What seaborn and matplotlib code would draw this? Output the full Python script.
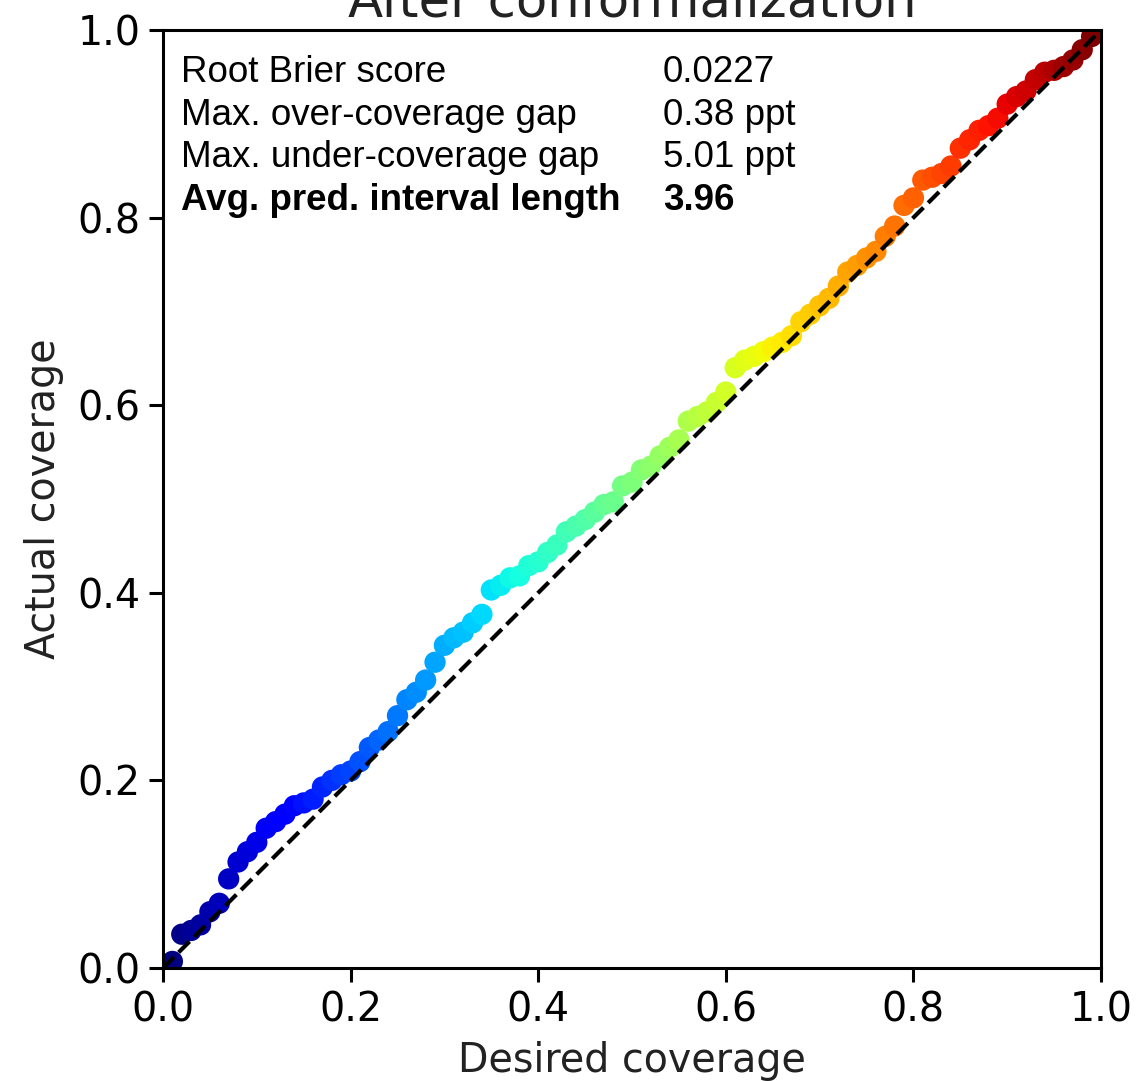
import numpy as np
import pandas as pd
import matplotlib
matplotlib.use("Agg")
import matplotlib.pyplot as plt
import seaborn as sns

desired = [round(0.01 * i, 2) for i in range(1, 100)]
actual = [
    0.007, 0.036, 0.040, 0.046, 0.060, 0.069, 0.095, 0.113, 0.124, 0.134,
    0.149, 0.156, 0.164, 0.173, 0.176, 0.180, 0.193, 0.200, 0.206, 0.210,
    0.220, 0.235, 0.243, 0.252, 0.269, 0.286, 0.294, 0.307, 0.326, 0.344,
    0.352, 0.358, 0.368, 0.377, 0.403, 0.408, 0.416, 0.418, 0.429, 0.433,
    0.443, 0.451, 0.465, 0.471, 0.478, 0.486, 0.494, 0.497, 0.514, 0.518,
    0.531, 0.535, 0.546, 0.555, 0.563, 0.583, 0.588, 0.593, 0.603, 0.614,
    0.640, 0.648, 0.652, 0.657, 0.662, 0.667, 0.674, 0.689, 0.697, 0.706,
    0.714, 0.727, 0.742, 0.749, 0.757, 0.764, 0.780, 0.791, 0.813, 0.821,
    0.840, 0.843, 0.847, 0.855, 0.874, 0.883, 0.893, 0.898, 0.906, 0.921,
    0.929, 0.935, 0.947, 0.955, 0.957, 0.961, 0.968, 0.979, 0.993,
]
diag = [0.0, 1.0]
tick_values = [0.0, 0.2, 0.4, 0.6, 0.8, 1.0]
tick_labels = ["0.0", "0.2", "0.4", "0.6", "0.8", "1.0"]
stat_names = ["Root Brier score", "Max. over-coverage gap",
              "Max. under-coverage gap", "Avg. pred. interval length"]
stat_values = ["0.0227", "0.38 ppt", "5.01 ppt", "3.96"]
stat_bold = [False, False, False, True]

sns.set_theme(style="ticks")
plt.rcParams["font.family"] = ["DejaVu Sans"]

df = pd.DataFrame({"desired": desired, "actual": actual})

W, H = 1137, 1081
fig = plt.figure(figsize=(W / 100, H / 100), dpi=100)
ax = fig.add_axes([163 / W, (H - 968) / H, 938 / W, 938 / H])

sns.scatterplot(data=df, x="desired", y="actual", hue="desired",
                palette=matplotlib.colormaps["jet"],
                s=235, linewidth=0, legend=False, ax=ax, zorder=2)
sns.lineplot(x=diag, y=diag, color="black", linestyle="--", linewidth=3.0,
             ax=ax, zorder=3)

ax.set_xlim(0, 1)
ax.set_ylim(0, 1)
ax.set_xticks(tick_values)
ax.set_xticklabels(tick_labels)
ax.set_yticks(tick_values)
ax.set_yticklabels(tick_labels)
ax.tick_params(axis="both", labelsize=28.5, length=10, width=2.2, color="black",
               labelcolor="black", pad=6)
for sp in ax.spines.values():
    sp.set_linewidth(2.2)
    sp.set_color("black")
ax.set_xlabel("Desired coverage", fontsize=28.5, labelpad=8, color="#222222")
ax.set_ylabel("Actual coverage", fontsize=28.5, labelpad=10, color="#222222")
ax.set_title("After conformalization", fontsize=37, pad=10, color="#222222")

ys = [0.955, 0.909, 0.864, 0.818]
for name, val, bold, yy in zip(stat_names, stat_values, stat_bold, ys):
    fw = "bold" if bold else "normal"
    ax.text(0.019, yy, name, transform=ax.transAxes, fontsize=26.5,
            family=["Liberation Sans", "DejaVu Sans"], fontweight=fw,
            va="center", ha="left", color="black")
    ax.text(0.533, yy, val, transform=ax.transAxes, fontsize=26.5,
            family=["Liberation Sans", "DejaVu Sans"], fontweight=fw,
            va="center", ha="left", color="black")

fig.savefig("out.png", dpi=100)
